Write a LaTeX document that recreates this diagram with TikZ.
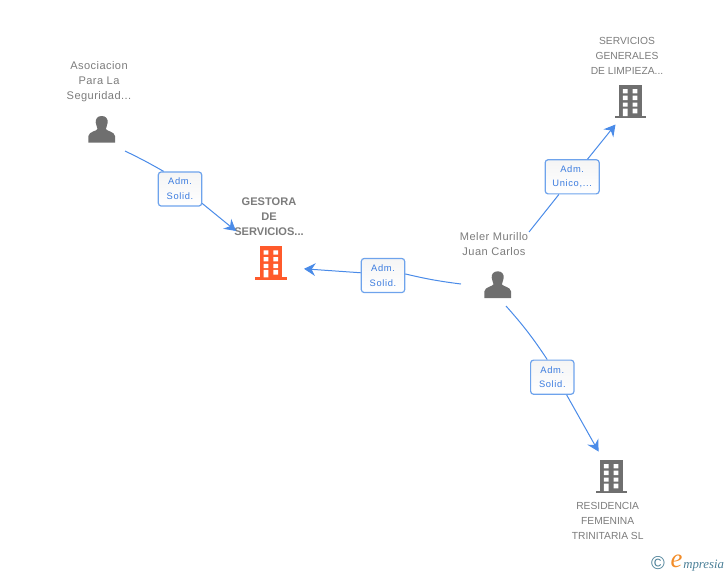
\documentclass[tikz,border=0pt]{standalone}
\usepackage{fontspec}
\setmainfont{Liberation Sans}
\newfontfamily\logofont{Liberation Serif}
\usetikzlibrary{arrows.meta,shadings}
\definecolor{txtgray}{HTML}{7C7C7C}
\definecolor{icongray}{HTML}{6F6F6F}
\definecolor{iconorange}{HTML}{FF5A2B}
\definecolor{linkblue}{HTML}{4A8BE8}
\definecolor{labelblue}{HTML}{3A7BDF}
\definecolor{boxblue}{HTML}{6EA3EC}
\definecolor{logoteal}{HTML}{4A7F97}
\definecolor{logoorange}{HTML}{F28C28}
\tikzset{
  x=0.75pt,y=-0.75pt,
  name text/.style={text=txtgray,align=center,inner sep=0pt,font=\fontsize{8.3pt}{11.25pt}\selectfont\addfontfeature{LetterSpace=4}},
  upper text/.style={text=txtgray,align=center,inner sep=0pt,font=\fontsize{7.7pt}{11.25pt}\selectfont},
  main text/.style={text=txtgray,align=center,inner sep=0pt,font=\fontsize{8.3pt}{11.25pt}\selectfont\bfseries},
  rel label/.style={draw=boxblue,line width=0.9pt,rounded corners=2.2pt,top color=black!4,bottom color=white,
    text=labelblue,align=center,inner sep=0pt,minimum height=25.6pt,
    font=\fontsize{7pt}{11.1pt}\selectfont\addfontfeature{LetterSpace=7}},
  link/.style={draw=linkblue,line width=0.75pt},
  arrowed/.style={link,-{Stealth[length=8.5pt,width=9.5pt,inset=2.8pt]}},
  pics/building/.style={code={
    \fill[#1] (-11.2,0) rectangle (11.2,31);
    \fill[#1] (-15.8,31) rectangle (15.8,33.3);
    \fill[white]
      (-7.5,4) rectangle (-2.8,8.3) (2.2,4) rectangle (7,8.3)
      (-7.5,10.7) rectangle (-2.8,15) (2.2,10.7) rectangle (7,15)
      (-7.5,17.6) rectangle (-2.8,21.7) (2.2,17.6) rectangle (7,21.7)
      (-7.5,23.5) rectangle (-2.8,31) (2.2,23.5) rectangle (7,28.3);
  }},
  pics/person/.style={code={
    \fill[icongray] (0,0) .. controls (4.5,0) and (6.2,3) .. (6,6.5)
      .. controls (5.8,9.5) and (4.3,11) .. (4.2,13)
      .. controls (4.6,15) and (12.8,15.5) .. (13.3,20)
      -- (13.3,26.7) -- (-13.3,26.7) -- (-13.3,20)
      .. controls (-12.8,15.5) and (-4.6,15) .. (-4.2,13)
      .. controls (-4.3,11) and (-5.8,9.5) .. (-6,6.5)
      .. controls (-6.2,3) and (-4.5,0) .. (0,0) -- cycle;
  }}
}
\begin{document}
\begin{tikzpicture}
\useasboundingbox (0,0) rectangle (728,575);

% icons
\pic at (271.2,246.3) {building=iconorange};
\pic at (630.4,85) {building=icongray};
\pic at (611.4,460) {building=icongray};
\pic at (101.7,116) {person};
\pic at (497.7,271.3) {person};

% texts
\node[name text] (asoc) at (99,82) {Asociacion\\Para La\\Seguridad...};
\node[main text] (gest) at (269,216.5) {GESTORA\\DE\\SERVICIOS...};
\node[upper text] (serv) at (627,56) {SERVICIOS\\GENERALES\\DE LIMPIEZA...};
\node[name text] (meler) at (494,244.5) {Meler Murillo\\Juan Carlos};
\node[upper text] (resi) at (607.7,521) {RESIDENCIA\\FEMENINA\\TRINITARIA SL};

% relation labels
\node[rel label,minimum width=32.5pt] (lab1) at (180,189) {Adm.\\Solid.};
\node[rel label,minimum width=40.5pt] (lab2) at (572.2,176.8) {Adm.\\Unico,...};
\node[rel label,minimum width=32.5pt] (lab3) at (383,275.5) {Adm.\\Solid.};
\node[rel label,minimum width=32.5pt] (lab4) at (552.3,377.2) {Adm.\\Solid.};

% free connector ends
\coordinate (s1) at (125,151);
\coordinate (t1) at (236,231);
\coordinate (s2) at (529,232);
\coordinate (t2) at (615.5,124.5);
\coordinate (s3) at (461,284);
\coordinate (t3) at (304,268.8);
\coordinate (s4) at (506,306);
\coordinate (t4) at (598.5,451.5);

% connectors
\draw[link] (s1) to[bend left=2] (lab1.133);
\draw[arrowed] (lab1.-33) -- (t1);
\draw[link] (s2) -- (lab2.233);
\draw[arrowed] (lab2.49) -- (t2);
\draw[link] (s3) to[bend left=3] (lab3.4);
\draw[arrowed] (lab3.173) -- (t3);
\draw[link] (s4) to[bend left=4] (lab4.106);
\draw[arrowed] (lab4.-51) -- (t4);

% logo
\node[inner sep=0pt,text=logoteal,font=\fontsize{14pt}{14pt}\selectfont] (copy) at (658,563.5) {©};
\node[inner sep=0pt,text=logoorange,font=\logofont\fontsize{20pt}{20pt}\selectfont\itshape] (loge) at (676.5,561.5) {e};
\node[inner sep=0pt,anchor=base west,text=logoteal,font=\logofont\fontsize{9.6pt}{11pt}\selectfont\itshape] (logt) at (683,568) {mpresia};
\end{tikzpicture}
\end{document}
